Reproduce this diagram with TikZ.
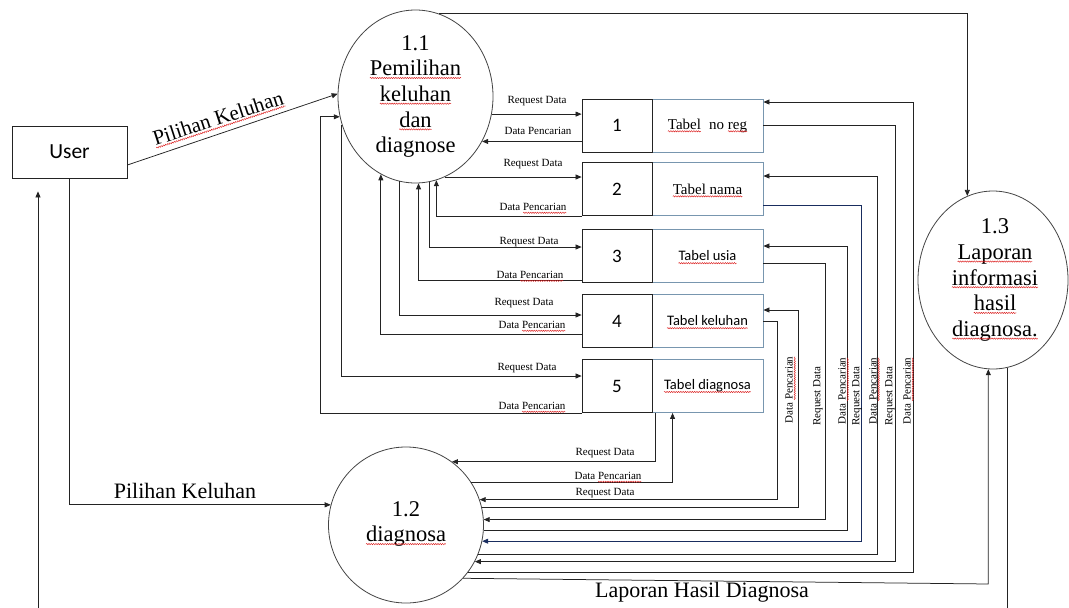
\documentclass[tikz,border=0pt]{standalone}
\usepackage{fontspec}
\setmainfont{Liberation Serif}
\newfontfamily\calfnt{Carlito}
\usetikzlibrary{shapes.geometric,arrows.meta,decorations.pathmorphing,calc}

\definecolor{ln}{RGB}{35,35,35}
\definecolor{tabblue}{RGB}{120,150,175}
\definecolor{navy}{RGB}{25,45,95}
\definecolor{sq}{RGB}{220,30,30}

\tikzset{
 wavy/.style={draw=sq, line width=0.45pt, decorate, decoration={snake, amplitude=0.65pt, segment length=2.3pt}},
 wvnode/.style={shape=rectangle, draw=none, fill=none, minimum width=0pt, minimum height=0pt, inner sep=0pt, outer sep=0pt, anchor=base},
 conn/.style={draw=ln, line width=0.75pt},
 arr/.style={conn, -{Triangle[length=6pt,width=5pt]}},
 proc/.style={ellipse, draw=ln!85, line width=0.8pt, inner sep=0pt},
 numbox/.style={draw=ln, line width=0.8pt, minimum width=70pt, minimum height=53pt, inner sep=0pt, font=\calfnt\fontsize{19}{22}\selectfont},
 namebox/.style={draw=tabblue, line width=0.9pt, minimum width=111pt, minimum height=53pt, inner sep=0pt},
 sername/.style={font=\fontsize{15}{18}\selectfont},
 sansname/.style={font=\calfnt\fontsize{14.5}{17}\selectfont},
 small/.style={font=\fontsize{11}{13}\selectfont, inner sep=0pt},
 big/.style={font=\fontsize{22}{26}\selectfont, inner sep=0pt},
 ptext/.style={align=center, font=\fontsize{22.5}{25.7}\selectfont, inner sep=0pt},
 userbox/.style={draw=ln, line width=0.8pt, minimum width=115pt, minimum height=52pt, inner sep=0pt, font=\calfnt\fontsize{21.5}{24}\selectfont},
}

\newcommand\wv[1]{\tikz[baseline=(wvx.base)]{\node[wvnode](wvx) at (0,0){#1};\draw[wavy,overlay]([yshift=-2.2pt]wvx.base west)--([yshift=-2.2pt]wvx.base east);}}

\begin{document}
\begin{tikzpicture}[x=1pt,y=-1pt]
\path[use as bounding box, fill=white] (0,0) rectangle (1069,608);

% coordinates for routing
\coordinate (L1) at (320,0);
\coordinate (R1) at (777,0);
\coordinate (R2) at (798,0);
\coordinate (R3) at (825,0);
\coordinate (R4) at (847,0);
\coordinate (R5) at (861,0);
\coordinate (R6) at (877,0);
\coordinate (R7) at (895,0);
\coordinate (R8) at (913,0);
\coordinate (B1) at (38,608);
\coordinate (Y584) at (0,584);

% main nodes
\node[userbox] (user) at (69.5,152) {User};
\node[proc, minimum width=155pt, minimum height=173pt] (c11) at (415.5,96.5) {};
\node[ptext] (c11t) at (415.5,96.5) {1.1\\\wv{Pemilihan}\\\wv{keluhan}\\\wv{dan}\\diagnose};
\node[proc, minimum width=155pt, minimum height=156pt] (c12) at (406,525) {};
\node[ptext] (c12t) at (406,524) {1.2\\\wv{diagnosa}};
\node[proc, minimum width=150pt, minimum height=178pt] (c13) at (993,280) {};
\node[ptext] (c13t) at (995,280) {1.3\\\wv{Laporan}\\\wv{informasi}\\\wv{hasil}\\\wv{diagnosa.}};

% tables
\node[namebox, sername] (t1) at (707.5,125.5) {\wv{Tabel}\hspace{0.55em}no \wv{reg}};
\node[numbox] (n1) at (617,125.5) {1};
\node[namebox, sername] (t2) at (707.5,189) {\wv{Tabel nama}};
\node[numbox] (n2) at (617,189) {2};
\node[namebox, sansname] (t3) at (707.5,256) {\wv{Tabel usia}};
\node[numbox] (n3) at (617,256) {3};
\node[namebox, sansname] (t4) at (707.5,321) {\wv{Tabel keluhan}};
\node[numbox] (n4) at (617,321) {4};
\node[namebox, sansname] (t5) at (707.5,386) {\wv{Tabel diagnosa}};
\node[numbox] (n5) at (617,386) {5};

% user flows
\draw[arr] ([yshift=-13pt]user.east) -- (c11.178);
\draw[arr] (user.south) -- (user.south |- c12.165) -- (c12.165);
\draw[arr, shorten >=13pt] (B1) -- (B1 |- user.south);

% 1.1 -> 1.3
\draw[arr] (c11.74) -- (c11.74 -| c13.107.3) -- (c13.107.3);

% 1.1 <-> tables (left side)
\draw[arr] (c11.-13.7) -- (c11.-13.7 -| n1.west);
\draw[arr] (c11.-34.6 -| n1.west) -- (c11.-34.6);
\draw[arr] (c11.-70.6) -- (c11.-70.6 -| n2.west);
\draw[arr] (n2.south west) -- (c11.-76.2 |- n2.south west) -- (c11.-76.2);
\draw[arr] (c11.-81.7) |- ([yshift=9pt]n3.west);
\draw[arr] ([yshift=-24pt]n3.west) -| (c11.-88.9);
\draw[arr] (c11.-101.7) |- ([yshift=6pt]n4.west);
\draw[arr] ([yshift=-13pt]n4.west) -| (c11.-114.8);
\draw[arr] (c11.-159.6) |- ([yshift=10pt]n5.west);
\draw[arr] (n5.south west) -| (L1 |- c11.-165.5) -- (c11.-165.5);

% table 5 <-> 1.2
\draw[arr] ([xshift=4pt]t5.south west) |- (c12.54);
\draw[arr] (c12.33.6) -| ([xshift=21pt]t5.south west);

% right side tables <-> 1.2
\draw[arr] (t4.east) -| (c12.19.6 -| R1) -- (c12.19.6);
\draw[arr] (c12.13.4) -- (c12.13.4 -| R2) |- ([yshift=11pt]t4.east);
\draw[arr] ([yshift=-7pt]t3.east) -| (c12.4.4 -| R3) -- (c12.4.4);
\draw[arr] (c12.-4.4) -- (c12.-4.4 -| R4) |- ([yshift=10pt]t3.east);
\draw[arr, draw=navy] ([yshift=-16pt]t2.east) -| (c12.-12.7 -| R5) -- (c12.-12.7);
\draw[arr] (c12.-22.0) -- (c12.-22.0 -| R6) |- ([yshift=13pt]t2.east);
\draw[arr] (t1.east) -| (c12.-28.5 -| R7) -- (c12.-28.5);
\draw[arr] (c12.-37.3) -- (c12.-37.3 -| R8) |- ([yshift=23.5pt]t1.east);

% 1.2 -> 1.3 and 1.3 -> bottom
\coordinate (lapc) at (c13.-93.2 |- Y584);
\draw[arr] (c12.-43) -- (lapc) -- (c13.-93.2);
\draw[conn] (c13.-81.6) -- (c13.-81.6 |- B1);

% big labels
\node[big, font=\fontsize{21}{25}\selectfont, rotate=18] (lpk1) at (218,118) {\wv{Pilihan Keluhan}};
\node[big] (lpk2) at (185,491) {Pilihan Keluhan};
\node[big] (llhd) at (702,592) {Laporan Hasil Diagnosa};

% small labels, left side
\node[small] (s1) at (537,101) {Request Data};
\node[small] (s2) at (538,131) {Data Pencarian};
\node[small] (s3) at (533,164) {Request Data};
\node[small] (s4) at (533,207) {Data \wv{Pencarian}};
\node[small] (s5) at (529,242) {Request Data};
\node[small] (s6) at (530,275) {Data \wv{Pencarian}};
\node[small] (s7) at (524,303) {Request Data};
\node[small] (s8) at (532,325) {Data \wv{Pencarian}};
\node[small] (s9) at (527,368) {Request Data};
\node[small] (s10) at (532,406) {Data \wv{Pencarian}};
\node[small] (s11) at (605,453) {Request Data};
\node[small] (s12) at (608,476) {Data \wv{Pencarian}};
\node[small] (s13) at (605,493) {Request Data};

% vertical labels
\node[small, rotate=90] (v1) at (789,390) {Data \wv{Pencarian}};
\node[small, rotate=90] (v2) at (818,396) {Request Data};
\node[small, rotate=90] (v3) at (842,391) {Data \wv{Pencarian}};
\node[small, rotate=90] (v4) at (857,396) {Request Data};
\node[small, rotate=90] (v5) at (873,391) {Data \wv{Pencarian}};
\node[small, rotate=90] (v6) at (890,396) {Request Data};
\node[small, rotate=90] (v7) at (907,391) {Data \wv{Pencarian}};
\end{tikzpicture}
\end{document}
